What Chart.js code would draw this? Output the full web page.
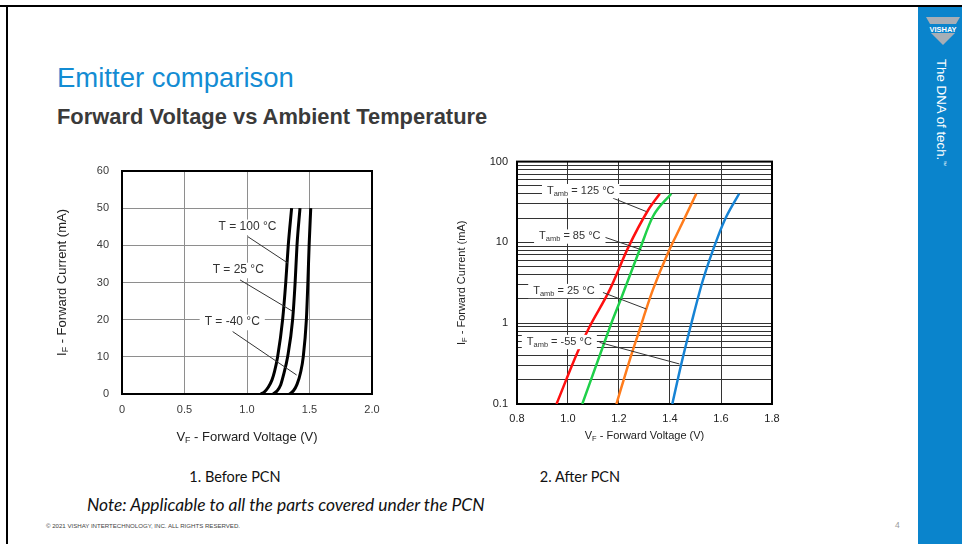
<!DOCTYPE html>
<html>
<head>
<meta charset="utf-8">
<script src="https://cdn.jsdelivr.net/npm/chart.js@4.4.1/dist/chart.umd.min.js"></script>
<style>
  body { margin: 0; width: 962px; height: 544px; position: relative; overflow: hidden; background: #fff; font-family: "Liberation Sans", Arial, sans-serif; }
  .abs { position: absolute; white-space: nowrap; }
  canvas { position: absolute; }
  #ruleTop { left: 0; top: 5px; width: 962px; height: 2px; background: #000; }
  #ruleLeft { left: 6px; top: 5px; width: 2px; height: 539px; background: #000; }
  #band { left: 918px; top: 7px; width: 44px; height: 537px; background: #0a84cc; }
  #title { left: 57px; top: 64px; font-size: 27.5px; line-height: 27.5px; color: #138cd3; }
  #subtitle { left: 57px; top: 106px; font-size: 21.9px; line-height: 21.9px; font-weight: bold; color: #3a3a3a; }
  .caption { font-family: Lato, "Open Sans", sans-serif; font-size: 14.5px; line-height: 20px; color: #111; transform: translateX(-50%); }
  #note { left: 87px; top: 494px; font-family: Lato, "Open Sans", sans-serif; font-style: italic; font-size: 17.4px; line-height: 22px; color: #111; }
  #copy { left: 46px; top: 522px; font-size: 6.1px; line-height: 7px; color: #444; }
  #page { left: 895px; top: 520px; font-size: 8.5px; line-height: 10px; color: #9a9a9a; }
  #tagline { left: 951px; top: 59px; font-size: 13.3px; line-height: 15px; color: #fff; transform: rotate(90deg); transform-origin: 0 0; }
  #tagline sup { font-size: 6px; }
</style>
</head>
<body>
<div id="ruleTop" class="abs"></div>
<div id="ruleLeft" class="abs"></div>
<div id="band" class="abs"></div>
<svg class="abs" style="left:918px;top:7px" width="44" height="45">
  <polygon points="8,10 42,10 38,17 12,17" fill="#a7aeb6"/>
  <text x="25" y="24.5" text-anchor="middle" font-family="Liberation Sans, Arial" font-weight="bold" font-size="7.5" fill="#fff">VISHAY</text>
  <polygon points="13,26 37,26 25,38" fill="#a7aeb6"/>
</svg>
<div id="tagline" class="abs">The DNA of tech.<sup>™</sup></div>

<div id="title" class="abs">Emitter comparison</div>
<div id="subtitle" class="abs">Forward Voltage vs Ambient Temperature</div>

<canvas id="before" width="350" height="300" style="left:40px;top:150px"></canvas>
<canvas id="after" width="350" height="300" style="left:440px;top:146px"></canvas>

<div class="abs caption" style="left:235px;top:467px">1. Before PCN</div>
<div class="abs caption" style="left:580px;top:467px">2. After PCN</div>
<div id="note" class="abs">Note: Applicable to all the parts covered under the PCN</div>
<div id="copy" class="abs">© 2021 VISHAY INTERTECHNOLOGY, INC. ALL RIGHTS RESERVED.</div>
<div id="page" class="abs">4</div>

<script>
// ---- before PCN: I_F (mA) vs V_F (V), linear axes
const beforeXTicks = [0, 0.5, 1.0, 1.5, 2.0];
const beforeXLabels = ['0', '0.5', '1.0', '1.5', '2.0'];
const beforeYTicks = [0, 10, 20, 30, 40, 50, 60];

const beforeVoltsT100 = [1.11, 1.14, 1.17, 1.20, 1.22, 1.245, 1.285, 1.31, 1.33, 1.357];
const beforeAmpsT100  = [0, 0.6, 1.8, 3.8, 6, 10, 20, 30, 40, 50];
const beforeVoltsT25  = [1.21, 1.24, 1.27, 1.295, 1.325, 1.365, 1.385, 1.40, 1.424];
const beforeAmpsT25   = [0, 0.8, 2.5, 5.5, 10, 20, 30, 40, 50];
const beforeVoltsTm40 = [1.34, 1.37, 1.40, 1.43, 1.45, 1.475, 1.487, 1.497, 1.51];
const beforeAmpsTm40  = [0, 0.8, 2.6, 6, 10, 20, 30, 40, 50];

// ---- after PCN: I_F (mA, log) vs V_F (V)
const afterXTicks = [0.8, 1.0, 1.2, 1.4, 1.6, 1.8];
const afterXLabels = ['0.8', '1.0', '1.2', '1.4', '1.6', '1.8'];
const afterYDecades = [0.1, 1, 10, 100];
const afterYLabels = ['0.1', '1', '10', '100'];

const afterVolts125 = [0.955, 1.039, 1.085, 1.164, 1.235, 1.314, 1.36];
const afterAmps125  = [0.1, 0.45, 0.91, 2.6, 8.5, 25, 40];
const afterVolts85  = [1.056, 1.137, 1.170, 1.209, 1.281, 1.333, 1.405];
const afterAmps85   = [0.1, 0.515, 1.0, 2.05, 8.1, 20.9, 40];
const afterVolts25  = [1.19, 1.242, 1.285, 1.307, 1.333, 1.392, 1.445, 1.503];
const afterAmps25   = [0.1, 0.35, 0.91, 1.5, 2.6, 7.4, 16.5, 40];
const afterVoltsM55 = [1.409, 1.445, 1.484, 1.529, 1.588, 1.621, 1.671];
const afterAmpsM55  = [0.1, 0.32, 1.0, 3.4, 11.8, 20.9, 40];

const FONT = '"Liberation Sans", Arial, sans-serif';

function toPoints(xs, ys) {
    return xs.map((x, i) => ({ x, y: ys[i] }));
}

function curve(xs, ys, color, width) {
    return {
        data: toPoints(xs, ys),
        showLine: true,
        borderColor: color,
        borderWidth: width,
        pointRadius: 0,
        fill: false,
        cubicInterpolationMode: 'monotone'
    };
}

// text with subscript pieces: parts = [[text, isSub], ...]
function drawRich(ctx, parts, x, y, size, color) {
    const widths = parts.map(([t, sub]) => {
        ctx.font = `${sub ? size * 0.68 : size}px ${FONT}`;
        return ctx.measureText(t).width;
    });
    const total = widths.reduce((a, b) => a + b, 0);
    let cx = x - total / 2;
    ctx.fillStyle = color;
    ctx.textBaseline = 'middle';
    ctx.textAlign = 'left';
    parts.forEach(([t, sub], i) => {
        ctx.font = `${sub ? size * 0.68 : size}px ${FONT}`;
        ctx.fillText(t, cx, sub ? y + size * 0.3 : y);
        cx += widths[i];
    });
    return total;
}

const framePlugin = {
    id: 'frame',
    beforeDatasetsDraw(chart) {
        const a = chart.chartArea, c = chart.ctx;
        c.save();
        c.strokeStyle = '#000';
        c.lineWidth = 2;
        c.strokeRect(a.left, a.top, a.right - a.left, a.bottom - a.top);
        c.restore();
    }
};

// callouts: label in a white box plus a thin leader line, placed in data units
function notesPlugin(notes, size) {
    return {
        id: 'notes',
        afterDatasetsDraw(chart) {
            const c = chart.ctx, sx = chart.scales.x, sy = chart.scales.y;
            c.save();
            notes.forEach(n => {
                c.strokeStyle = '#333';
                c.lineWidth = 1;
                c.beginPath();
                c.moveTo(sx.getPixelForValue(n.from[0]), sy.getPixelForValue(n.from[1]));
                c.lineTo(sx.getPixelForValue(n.to[0]), sy.getPixelForValue(n.to[1]));
                c.stroke();
                const px = sx.getPixelForValue(n.at[0]), py = sy.getPixelForValue(n.at[1]);
                let w = 0;
                n.parts.forEach(([t, sub]) => {
                    c.font = `${sub ? size * 0.68 : size}px ${FONT}`;
                    w += c.measureText(t).width;
                });
                c.fillStyle = '#fff';
                c.fillRect(px - w / 2 - 5, py - size * 0.6, w + 10, size * 1.3);
                drawRich(c, n.parts, px, py, size, '#333');
            });
            c.restore();
        }
    };
}

function titlesPlugin(xParts, yParts, size, xOff, yOff) {
    return {
        id: 'titles',
        afterDraw(chart) {
            const a = chart.chartArea, c = chart.ctx;
            c.save();
            drawRich(c, xParts, (a.left + a.right) / 2, a.bottom + xOff, size, '#222');
            c.translate(a.left - yOff, (a.top + a.bottom) / 2);
            c.rotate(-Math.PI / 2);
            drawRich(c, yParts, 0, 0, size, '#222');
            c.restore();
        }
    };
}

const baseOptions = {
    responsive: false,
    animation: false,
    events: [],
    plugins: { legend: { display: false }, tooltip: { enabled: false } }
};

new Chart(document.getElementById('before'), {
    type: 'scatter',
    data: {
        datasets: [
            curve(beforeVoltsT100, beforeAmpsT100, '#000', 3),
            curve(beforeVoltsT25, beforeAmpsT25, '#000', 3),
            curve(beforeVoltsTm40, beforeAmpsTm40, '#000', 3)
        ]
    },
    options: {
        ...baseOptions,
        layout: { padding: { top: 21, right: 18, left: 0, bottom: 0 } },
        scales: {
            x: {
                type: 'linear', min: 0, max: 2,
                afterBuildTicks: s => { s.ticks = beforeXTicks.map(v => ({ value: v })); },
                afterFit: s => { s.height = 56; },
                grid: { color: '#8e8e8e', lineWidth: 1, drawTicks: false },
                border: { display: false },
                ticks: { padding: 9, color: '#3a3a3a', font: { family: FONT, size: 11 }, autoSkip: false, maxRotation: 0,
                         callback: (v, i) => beforeXLabels[i] }
            },
            y: {
                type: 'linear', min: 0, max: 60,
                afterBuildTicks: s => { s.ticks = beforeYTicks.map(v => ({ value: v })); },
                afterFit: s => { s.width = 82; },
                grid: { color: '#8e8e8e', lineWidth: 1, drawTicks: false },
                border: { display: false },
                ticks: { padding: 13, color: '#3a3a3a', font: { family: FONT, size: 11 }, autoSkip: false }
            }
        }
    },
    plugins: [
        framePlugin,
        notesPlugin([
            { parts: [['T = 100 °C', false]], at: [1.004, 45.0], from: [1.008, 42.3], to: [1.328, 35.2] },
            { parts: [['T = 25 °C', false]], at: [0.93, 33.4], from: [0.944, 30.7], to: [1.362, 22.3] },
            { parts: [['T = -40 °C', false]], at: [0.882, 19.4], from: [0.885, 16.8], to: [1.397, 5.1] }
        ], 12),
        titlesPlugin([['V', false], ['F', true], [' - Forward Voltage (V)', false]],
                     [['I', false], ['F', true], [' - Forward Current (mA)', false]], 13, 43, 60)
    ]
});

const afterGrid = [];
afterYDecades.forEach(d => {
    if (d === 100) { afterGrid.push(d); return; }
    for (let k = 1; k <= 9; k++) afterGrid.push(d * k);
});

new Chart(document.getElementById('after'), {
    type: 'scatter',
    data: {
        datasets: [
            curve(afterVolts125, afterAmps125, '#ff1010', 2.5),
            curve(afterVolts85, afterAmps85, '#1fd04a', 2.5),
            curve(afterVolts25, afterAmps25, '#ff7c1c', 2.5),
            curve(afterVoltsM55, afterAmpsM55, '#1683d4', 2.5)
        ]
    },
    options: {
        ...baseOptions,
        layout: { padding: { top: 15, right: 18, left: 0, bottom: 0 } },
        scales: {
            x: {
                type: 'linear', min: 0.8, max: 1.8,
                afterBuildTicks: s => { s.ticks = afterXTicks.map(v => ({ value: v })); },
                afterFit: s => { s.height = 42; },
                grid: { color: '#333', lineWidth: 1, drawTicks: false },
                border: { display: false },
                ticks: { padding: 8, color: '#222', font: { family: FONT, size: 11 }, autoSkip: false, maxRotation: 0,
                         callback: (v, i) => afterXLabels[i] }
            },
            y: {
                type: 'logarithmic', min: 0.1, max: 100,
                afterBuildTicks: s => { s.ticks = afterGrid.map(v => ({ value: v })); },
                afterFit: s => { s.width = 77; },
                grid: { color: '#333', lineWidth: 1, drawTicks: false },
                border: { display: false },
                ticks: { padding: 9, color: '#222', font: { family: FONT, size: 11 }, autoSkip: false,
                         callback: v => {
                             const k = afterYDecades.findIndex(d => Math.abs(d - v) < 1e-9);
                             return k >= 0 ? afterYLabels[k] : '';
                         } }
            }
        }
    },
    plugins: [
        framePlugin,
        notesPlugin([
            { parts: [['T', false], ['amb', true], [' = 125 °C', false]], at: [1.05, 43.8], from: [1.176, 35.3], to: [1.307, 24.1] },
            { parts: [['T', false], ['amb', true], [' = 85 °C', false]], at: [1.007, 12.0], from: [1.144, 11.6], to: [1.288, 8.1] },
            { parts: [['T', false], ['amb', true], [' = 25 °C', false]], at: [0.984, 2.54], from: [1.137, 2.4], to: [1.307, 1.5] },
            { parts: [['T', false], ['amb', true], [' = -55 °C', false]], at: [0.966, 0.594], from: [1.124, 0.578], to: [1.437, 0.313] }
        ], 11),
        titlesPlugin([['V', false], ['F', true], [' - Forward Voltage (V)', false]],
                     [['I', false], ['F', true], [' - Forward Current (mA)', false]], 11, 32, 55)
    ]
});
</script>
</body>
</html>
